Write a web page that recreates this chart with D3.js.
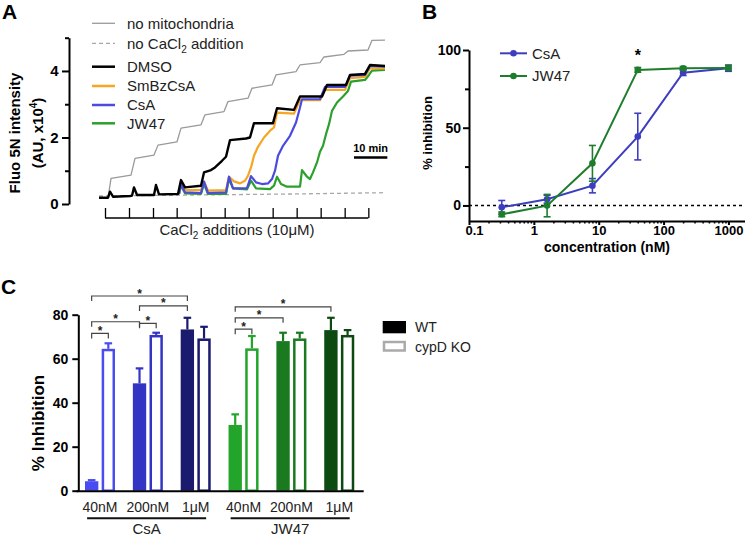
<!DOCTYPE html>
<html><head><meta charset="utf-8">
<script src="https://cdn.jsdelivr.net/npm/d3@7"></script>
<style>body{margin:0;background:#fff} svg{display:block}</style>
</head><body><svg id="c" width="745" height="538"></svg>
<script>
const FONT = '"Liberation Sans", Arial, Helvetica, sans-serif';

// ---------------- Panel A data (time in min, fluorescence in AU x10^4) ----------------
const additionTimes = [1.8, 9.0, 16.2, 23.3, 30.5, 37.7, 44.9, 52.1, 59.3, 66.5, 73.7, 80.8];
const scaleBarMin = 10;
const yTicksA = [0, 2, 4];
const yMinorA = [1, 3, 5];
const legendA = ["no mitochondria", "no CaCl2 addition", "DMSO", "SmBzCsA", "CsA", "JW47"];
const noMito = [[0,0.17],[2.7,0.17],[3.6,0.77],[9.6,0.87],[10.8,1.37],[16.5,1.47],[17.7,1.77],[23.4,1.87],[24.6,2.28],[30.6,2.38],[31.8,2.68],[37.5,2.78],[38.7,3.08],[44.7,3.18],[45.9,3.48],[51.9,3.58],[53.1,3.88],[59.1,3.98],[60.3,4.18],[66.3,4.25],[67.5,4.42],[73.5,4.5],[74.7,4.6],[80.7,4.63],[81.9,4.92],[85.8,4.93]];
const noCa = [[0,0.24],[28,0.27],[57,0.3],[85.8,0.34]];
const dmso = [[0,0.19],[2.7,0.19],[3.3,0.37],[4.2,0.22],[9.3,0.24],[9.9,0.25],[10.5,0.5],[11.4,0.27],[16.5,0.27],[17.1,0.57],[18.0,0.29],[23.7,0.3],[24.6,0.72],[25.8,0.5],[30.6,0.55],[31.5,0.95],[33.6,1.02],[34.8,1.1],[36.9,1.3],[38.1,1.42],[39.3,1.92],[44.1,1.97],[45.3,2.0],[46.5,2.43],[52.2,2.43],[53.4,2.88],[58.5,2.83],[60.3,3.23],[66.9,3.23],[68.4,3.58],[74.1,3.58],[75.3,3.88],[79.8,3.91],[81.3,4.18],[85.8,4.15]];
const smbz = [[24.0,0.3],[24.6,0.65],[25.8,0.42],[30.6,0.42],[31.5,0.68],[32.7,0.4],[38.1,0.42],[39.0,0.82],[40.5,0.68],[42.3,0.62],[43.8,0.7],[44.7,0.85],[45.6,1.1],[46.5,1.45],[47.7,1.72],[49.5,2.0],[51.6,2.23],[52.5,2.3],[53.4,2.75],[58.5,2.72],[60.3,3.13],[66.3,3.12],[67.8,3.43],[73.8,3.43],[75.3,3.78],[79.8,3.82],[81.3,4.08],[85.8,4.08]];
const csaTrace = [[24.0,0.3],[24.6,0.6],[25.8,0.35],[30.6,0.33],[31.5,0.67],[32.7,0.33],[38.1,0.35],[39.0,0.82],[40.2,0.47],[44.4,0.48],[45.6,0.84],[47.1,0.65],[48.9,0.6],[50.7,0.62],[51.9,0.75],[52.8,1.0],[53.7,1.45],[55.2,1.75],[57.3,2.05],[59.1,2.45],[60.3,2.9],[60.9,3.15],[66.3,3.15],[67.8,3.52],[73.8,3.52],[75.3,3.86],[79.8,3.88],[81.3,4.15],[85.8,4.13]];
const jwTrace = [[24.0,0.3],[24.6,0.55],[25.8,0.32],[30.6,0.3],[31.5,0.6],[32.7,0.3],[38.1,0.3],[39.0,0.75],[40.2,0.47],[44.4,0.44],[45.6,0.7],[47.1,0.47],[51.3,0.45],[52.5,0.55],[53.4,0.82],[54.6,0.6],[56.4,0.52],[60.3,0.52],[60.9,1.02],[62.4,0.82],[63.3,0.75],[64.2,0.95],[65.4,1.25],[66.3,1.57],[67.2,1.75],[68.1,2.1],[69.0,2.4],[69.9,2.8],[71.4,3.05],[73.2,3.23],[74.7,3.4],[75.6,3.68],[79.8,3.73],[81.0,3.88],[81.9,4.01],[85.8,4.03]];

// ---------------- Panel B data ----------------
const concB = [0.32, 1.6, 8, 40, 200, 1000];
const csaB = [-1.2, 4.0, 12.7, 44.3, 85.4, 88.3];
const csaBerr = [4.4, 2.5, 4.6, 15, 1.8, 2];
const jwB = [-5.7, -0.1, 27.1, 87.2, 88.3, 88.5];
const jwBerr = [1.5, 7.2, 11.5, 1.5, 1, 1.5];
const yTicksB = [0, 50, 100];
const yMinorB = [25, 75];
const xTicksB = [0.1, 1, 10, 100, 1000];
const legendB = ["CsA", "JW47"];

// ---------------- Panel C data ----------------
const drugsC = ["CsA", "JW47"];
const doseC = ["40nM", "200nM", "1μM"];
const wtC = [4.3, 48.8, 73.3, 29.9, 68, 73];
const wtErr = [0.5, 6.8, 5.3, 4.8, 3.8, 5.6];
const koC = [64.5, 70.8, 69.2, 64.7, 69.2, 70.8];
const koErr = [2.5, 1.0, 5.3, 5.6, 2.6, 2.2];
const yTicksC = [0, 20, 40, 60, 80];
const legendC = ["WT", "cypD KO"];
// [category index A, genotype A, category index B, genotype B, bracket level (% inhibition)]
const sigC = [[0,"WT",0,"KO",71.5],[0,"WT",1,"WT",76.8],[1,"WT",1,"KO",76.1],[1,"WT",2,"WT",84],[0,"WT",2,"WT",88.5],[3,"WT",3,"KO",73.4],[3,"WT",4,"WT",78.6],[3,"WT",5,"WT",83.6]];

const svg = d3.select("#c").style("font-family", FONT);

function styleAxis(g, fs, fw, sw) {
  g.attr("font-family", FONT);
  g.select(".domain").attr("stroke", "#000").attr("stroke-width", sw || 2);
  g.selectAll(".tick line").attr("stroke", "#000").attr("stroke-width", sw || 2);
  g.selectAll(".tick text").attr("font-size", fs).attr("font-weight", fw).attr("fill", "#000");
}
function panelLabel(t, x, y) {
  svg.append("text").attr("x", x).attr("y", y).attr("font-size", 21).attr("font-weight", "bold").text(t);
}

// ====================== PANEL A ======================
const xA = d3.scaleLinear().domain([0, 85.8]).range([99, 385]);
const yA = d3.scaleLinear().domain([0, 5]).range([204, 37.7]);
panelLabel("A", 2, 18.5);

const gyA = svg.append("g").attr("transform", "translate(69,0)")
  .call(d3.axisLeft(yA).tickValues(yTicksA).tickSize(7).tickSizeOuter(0).tickPadding(3.5).tickFormat(d3.format("d")));
styleAxis(gyA, 15, "bold");
const gyA2 = svg.append("g").attr("transform", "translate(69,0)")
  .call(d3.axisLeft(yA).tickValues(yMinorA).tickSize(4).tickFormat(""));
gyA2.select(".domain").remove();
styleAxis(gyA2, 15, "bold");

svg.append("text").attr("transform", "translate(20,133) rotate(-90)").attr("text-anchor", "middle")
  .attr("font-size", 15).attr("font-weight", "bold").text("Fluo 5N intensity");
const yl2 = svg.append("text").attr("transform", "translate(42.5,133) rotate(-90)").attr("text-anchor", "middle")
  .attr("font-size", 15).attr("font-weight", "bold");
yl2.append("tspan").text("(AU, x10");
yl2.append("tspan").attr("font-size", 10).attr("dy", -6).text("4");
yl2.append("tspan").attr("dy", 6).text(")");

// additions axis
const gxA = svg.append("g").attr("transform", "translate(0,218)")
  .call(d3.axisTop(xA).tickValues(additionTimes).tickSize(10).tickFormat(""));
gxA.select(".domain").remove();
styleAxis(gxA, 12, "normal", 1.3);
svg.append("line").attr("x1", xA(additionTimes[0])).attr("x2", xA(additionTimes[additionTimes.length - 1]))
  .attr("y1", 218).attr("y2", 218).attr("stroke", "#000").attr("stroke-width", 1.5);
const xlA = svg.append("text").attr("x", 237).attr("y", 235).attr("text-anchor", "middle").attr("font-size", 15).attr("fill", "#222");
xlA.append("tspan").text("CaCl");
xlA.append("tspan").attr("font-size", 10).attr("dy", 4).text("2");
xlA.append("tspan").attr("dy", -4).text(" additions (10μM)");

const lineA = d3.line().x(d => xA(d[0])).y(d => yA(d[1]));
const seriesA = [
  {d: noMito, c: "#9a9a9a", w: 1.3},
  {d: noCa, c: "#a8a8a8", w: 1.3, dash: "4,3"},
  {d: jwTrace, c: "#2ca02c", w: 2.2},
  {d: smbz, c: "#f5a623", w: 2.2},
  {d: csaTrace, c: "#4b4be0", w: 2.2},
  {d: dmso, c: "#000", w: 2.4}
];
seriesA.forEach(s => {
  svg.append("path").attr("d", lineA(s.d)).attr("fill", "none").attr("stroke", s.c)
    .attr("stroke-width", s.w).attr("stroke-linejoin", "round").attr("stroke-dasharray", s.dash || null);
});

// scale bar
svg.append("line").attr("x1", xA(76.5)).attr("x2", xA(76.5 + scaleBarMin)).attr("y1", 157.5).attr("y2", 157.5)
  .attr("stroke", "#000").attr("stroke-width", 2.5);
svg.append("text").attr("x", (xA(76.5) + xA(76.5 + scaleBarMin)) / 2).attr("y", 152).attr("text-anchor", "middle")
  .attr("font-size", 11).attr("font-weight", "bold").text("10 min");

// legend A
const legA = [
  {c: "#9a9a9a", w: 1.3, y: 23.3},
  {c: "#a8a8a8", w: 1.3, y: 43.3, dash: "4,3"},
  {c: "#000", w: 2.5, y: 66.7},
  {c: "#f5a623", w: 2.5, y: 86},
  {c: "#4b4be0", w: 2.5, y: 105},
  {c: "#2ca02c", w: 2.5, y: 123.3}
];
legA.forEach((l, i) => {
  svg.append("line").attr("x1", 92).attr("x2", 115).attr("y1", l.y).attr("y2", l.y)
    .attr("stroke", l.c).attr("stroke-width", l.w).attr("stroke-dasharray", l.dash || null);
  const t = svg.append("text").attr("x", 127).attr("y", l.y + 5.3).attr("font-size", 15).attr("fill", "#222");
  const lab = legendA[i];
  if (lab.indexOf("CaCl2") >= 0) {
    t.append("tspan").text("no CaCl");
    t.append("tspan").attr("font-size", 10).attr("dy", 4).text("2");
    t.append("tspan").attr("dy", -4).text(" addition");
  } else t.text(lab);
});

// ====================== PANEL B ======================
const xB = d3.scaleLog().domain([0.1, 1800]).range([469, 745]);
const yB = d3.scaleLinear().domain([-10, 100]).range([221, 50]);
panelLabel("B", 422, 18.5);

const gyB = svg.append("g").attr("transform", "translate(469,0)")
  .call(d3.axisLeft(yB).tickValues(yTicksB).tickSize(6).tickSizeOuter(0).tickPadding(2));
styleAxis(gyB, 14, "bold");
const gyB2 = svg.append("g").attr("transform", "translate(469,0)")
  .call(d3.axisLeft(yB).tickValues(yMinorB).tickSize(4).tickFormat(""));
gyB2.select(".domain").remove();
styleAxis(gyB2, 14, "bold");

const minorB = [];
[0.1, 1, 10, 100].forEach(dec => { for (let k = 2; k <= 9; k++) minorB.push(dec * k); });
const gxB = svg.append("g").attr("transform", "translate(0,221)")
  .call(d3.axisBottom(xB).tickValues(xTicksB).tickSize(4).tickSizeOuter(0).tickPadding(1).tickFormat(d => String(d)));
styleAxis(gxB, 13, "bold");
gxB.selectAll(".tick text").filter(d => d === 0.1).attr("dx", 5);
const gxB2 = svg.append("g").attr("transform", "translate(0,221)")
  .call(d3.axisBottom(xB).tickValues(minorB).tickSize(2.5).tickFormat(""));
gxB2.select(".domain").remove();
styleAxis(gxB2, 13, "bold", 1.5);

svg.append("line").attr("x1", 469).attr("x2", 745).attr("y1", yB(0)).attr("y2", yB(0))
  .attr("stroke", "#000").attr("stroke-width", 1.5).attr("stroke-dasharray", "3,3");

svg.append("text").attr("x", 607).attr("y", 252).attr("text-anchor", "middle").attr("font-size", 14).attr("font-weight", "bold").text("concentration (nM)");
svg.append("text").attr("transform", "translate(432,133) rotate(-90)").attr("text-anchor", "middle")
  .attr("font-size", 13).attr("font-weight", "bold").text("% inhibition");

const seriesB = [
  {v: csaB, e: csaBerr, c: "#3d3dbf"},
  {v: jwB, e: jwBerr, c: "#1e7d2c"}
];
const lineB = d3.line().x(d => xB(d[0])).y(d => yB(d[1]));
seriesB.forEach(s => {
  const pts = concB.map((c, i) => [c, s.v[i], s.e[i]]);
  const g = svg.append("g");
  g.append("path").attr("d", lineB(pts)).attr("fill", "none").attr("stroke", s.c).attr("stroke-width", 2);
  pts.forEach(p => {
    const x = xB(p[0]);
    g.append("line").attr("x1", x).attr("x2", x).attr("y1", yB(p[1] - p[2])).attr("y2", yB(p[1] + p[2])).attr("stroke", s.c).attr("stroke-width", 1.6);
    [p[1] - p[2], p[1] + p[2]].forEach(v => g.append("line").attr("x1", x - 3.5).attr("x2", x + 3.5).attr("y1", yB(v)).attr("y2", yB(v)).attr("stroke", s.c).attr("stroke-width", 1.6));
    g.append("circle").attr("cx", x).attr("cy", yB(p[1])).attr("r", 3.3).attr("fill", s.c);
  });
});
svg.append("text").attr("x", xB(concB[3])).attr("y", 61).attr("text-anchor", "middle").attr("font-size", 16).attr("font-weight", "bold").text("*");

[53.3, 76].forEach((y, i) => {
  const c = seriesB[i].c;
  svg.append("line").attr("x1", 500).attr("x2", 527).attr("y1", y).attr("y2", y).attr("stroke", c).attr("stroke-width", 2);
  svg.append("circle").attr("cx", 513.5).attr("cy", y).attr("r", 3.3).attr("fill", c);
  svg.append("text").attr("x", 532).attr("y", y + 5.3).attr("font-size", 15).attr("fill", "#222").text(legendB[i]);
});

// ====================== PANEL C ======================
panelLabel("C", 1, 294);
const cats = drugsC.flatMap(d => doseC.map(s => d + "|" + s));
const xC = d3.scaleBand().domain(cats).range([76.1, 363.2]);
const xIn = d3.scaleBand().domain(["WT", "KO"]).range([8.9, 38.9]).paddingInner(0.2);
const yC = d3.scaleLinear().domain([0, 80]).range([490.7, 314.7]);
const colC = ["#4a4cf2", "#3434c4", "#1a1a6e", "#22a52a", "#1b7a20", "#0d4a12"];

const gyC = svg.append("g").attr("transform", "translate(78.3,0)")
  .call(d3.axisLeft(yC).tickValues(yTicksC).tickSize(6).tickSizeOuter(0).tickPadding(4));
styleAxis(gyC, 14, "bold");
svg.append("text").attr("transform", "translate(44,423) rotate(-90)").attr("text-anchor", "middle")
  .attr("font-size", 17).attr("font-weight", "bold").text("% Inhibition");

const bw = xIn.bandwidth();
cats.forEach((c, i) => {
  const col = colC[i];
  const x0 = xC(c) + xIn("WT"), x1 = xC(c) + xIn("KO");
  svg.append("line").attr("x1", x0 + bw / 2).attr("x2", x0 + bw / 2).attr("y1", yC(wtC[i])).attr("y2", yC(wtC[i] + wtErr[i])).attr("stroke", col).attr("stroke-width", 2.2);
  svg.append("line").attr("x1", x0 + bw / 2 - 3.8).attr("x2", x0 + bw / 2 + 3.8).attr("y1", yC(wtC[i] + wtErr[i])).attr("y2", yC(wtC[i] + wtErr[i])).attr("stroke", col).attr("stroke-width", 2.2);
  svg.append("rect").attr("x", x0).attr("y", yC(wtC[i])).attr("width", bw).attr("height", yC(0) - yC(wtC[i])).attr("fill", col);
  svg.append("line").attr("x1", x1 + bw / 2).attr("x2", x1 + bw / 2).attr("y1", yC(koC[i])).attr("y2", yC(koC[i] + koErr[i])).attr("stroke", col).attr("stroke-width", 2.2);
  svg.append("line").attr("x1", x1 + bw / 2 - 3.8).attr("x2", x1 + bw / 2 + 3.8).attr("y1", yC(koC[i] + koErr[i])).attr("y2", yC(koC[i] + koErr[i])).attr("stroke", col).attr("stroke-width", 2.2);
  svg.append("rect").attr("x", x1 + 1.25).attr("y", yC(koC[i]) + 1.25).attr("width", bw - 2.5).attr("height", yC(0) - yC(koC[i]) - 1.25)
    .attr("fill", "#fff").attr("stroke", col).attr("stroke-width", 2.5);
});

const gxC = svg.append("g").attr("transform", `translate(0,${yC(0)})`)
  .call(d3.axisBottom(xC).tickSize(0).tickPadding(11).tickSizeOuter(0).tickFormat(d => d.split("|")[1]));
styleAxis(gxC, 14, "normal");
gxC.selectAll(".tick text").attr("fill", "#222");

drugsC.forEach((d, j) => {
  const first = xC(d + "|" + doseC[0]), last = xC(d + "|" + doseC[doseC.length - 1]);
  const xa = first + 11, xb = last + xC.bandwidth() - 13.5;
  svg.append("line").attr("x1", xa).attr("x2", xb).attr("y1", 518.3).attr("y2", 518.3).attr("stroke", "#111").attr("stroke-width", 2);
  svg.append("text").attr("x", (xa + xb) / 2).attr("y", 534).attr("text-anchor", "middle").attr("font-size", 15).attr("fill", "#222").text(d);
});

// significance brackets
const bc = (ci, g) => xC(cats[ci]) + xIn(g) + bw / 2;
sigC.forEach(s => {
  const xa = bc(s[0], s[1]), xb = bc(s[2], s[3]), y = yC(s[4]);
  svg.append("path").attr("d", `M${xa},${y + 5}V${y}H${xb}V${y + 5}`).attr("fill", "none").attr("stroke", "#444").attr("stroke-width", 1.2);
  svg.append("text").attr("x", (xa + xb) / 2).attr("y", y + 1.5).attr("text-anchor", "middle").attr("font-size", 12).attr("font-weight", "bold").attr("fill", "#222").text("*");
});

// legend C
svg.append("rect").attr("x", 382.7).attr("y", 321).attr("width", 23.3).attr("height", 12.3).attr("fill", "#000");
svg.append("rect").attr("x", 384).attr("y", 342).attr("width", 20.7).attr("height", 8.5).attr("fill", "#fff").attr("stroke", "#aaa").attr("stroke-width", 2.5);
svg.append("text").attr("x", 415).attr("y", 331.7).attr("font-size", 14).attr("fill", "#222").text(legendC[0]);
svg.append("text").attr("x", 415).attr("y", 351.5).attr("font-size", 14).attr("fill", "#222").text(legendC[1]);
</script></body></html>
